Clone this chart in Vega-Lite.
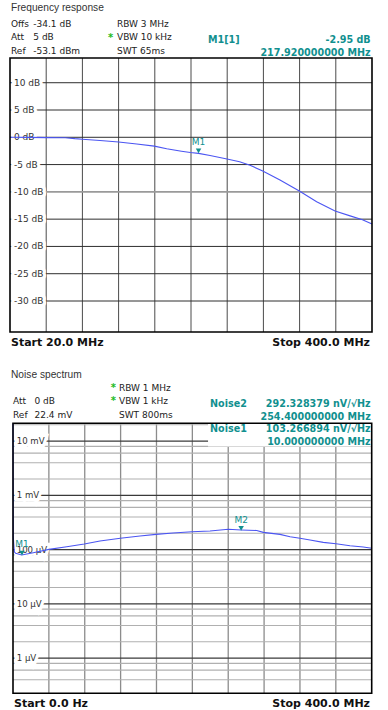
{
"$schema": "https://vega.github.io/schema/vega-lite/v6.json",
"width": 388, "height": 710, "autosize": "none", "padding": 0, "background": "white",
"config": {"view": {"stroke": null}, "text": {"font": "DejaVu Sans"}},
"data": {"values": [{}]},
"datasets": {
 "topV": [{"f":58},{"f":96},{"f":134},{"f":172},{"f":210},{"f":248},{"f":286},{"f":324},{"f":362}],
 "topH": [{"v":10,"label":"10 dB"},{"v":5,"label":"5 dB"},{"v":0,"label":"0 dB"},{"v":-5,"label":"-5 dB"},{"v":-10,"label":"-10 dB"},{"v":-15,"label":"-15 dB"},{"v":-20,"label":"-20 dB"},{"v":-25,"label":"-25 dB"},{"v":-30,"label":"-30 dB"}],
 "topTrace": [{"f":20,"db":0.0},{"f":40,"db":-0.02},{"f":58,"db":-0.06},{"f":78,"db":-0.08},{"f":88,"db":-0.25},{"f":96,"db":-0.35},{"f":114.5,"db":-0.6},{"f":134,"db":-0.85},{"f":153,"db":-1.23},{"f":171.5,"db":-1.62},{"f":184.5,"db":-2.1},{"f":200,"db":-2.55},{"f":209.3,"db":-2.8},{"f":217.9,"db":-2.95},{"f":230,"db":-3.35},{"f":247.8,"db":-3.97},{"f":261,"db":-4.47},{"f":272,"db":-5.13},{"f":285.3,"db":-6.17},{"f":303.4,"db":-7.82},{"f":323.7,"db":-9.84},{"f":341.9,"db":-11.8},{"f":361.2,"db":-13.5},{"f":377,"db":-14.4},{"f":390,"db":-15.1},{"f":400,"db":-15.9}],
 "botV": [{"f":40},{"f":80},{"f":120},{"f":160},{"f":200},{"f":240},{"f":280},{"f":320},{"f":360}],
 "botH": [{"v":20000,"kind":"minor"},{"v":10000,"kind":"major","label":"10 mV"},{"v":8000,"kind":"minor"},{"v":6000,"kind":"minor"},{"v":4000,"kind":"minor"},{"v":2000,"kind":"minor"},{"v":1000,"kind":"major","label":"1 mV"},{"v":800,"kind":"minor"},{"v":600,"kind":"minor"},{"v":400,"kind":"minor"},{"v":200,"kind":"minor"},{"v":100,"kind":"major","label":"100 µV"},{"v":80,"kind":"minor"},{"v":60,"kind":"minor"},{"v":40,"kind":"minor"},{"v":20,"kind":"minor"},{"v":10,"kind":"major","label":"10 µV"},{"v":8,"kind":"minor"},{"v":6,"kind":"minor"},{"v":4,"kind":"minor"},{"v":2,"kind":"minor"},{"v":1,"kind":"major","label":"1 µV"},{"v":0.8,"kind":"minor"},{"v":0.6,"kind":"minor"},{"v":0.4,"kind":"minor"}],
 "botTrace": [{"f":0,"uv":21300},{"f":0.35,"uv":170},{"f":1.45,"uv":91},{"f":3.0,"uv":85.5},{"f":9.7,"uv":79.5},{"f":22.6,"uv":87.7},{"f":40.1,"uv":101},{"f":59.9,"uv":113},{"f":79.5,"uv":127},{"f":97,"uv":144},{"f":119.7,"uv":161.6},{"f":141.6,"uv":178},{"f":159.5,"uv":191},{"f":178.4,"uv":202},{"f":199.6,"uv":214},{"f":219.7,"uv":220},{"f":240.1,"uv":237},{"f":254.4,"uv":230},{"f":271.8,"uv":225},{"f":279.1,"uv":208},{"f":297.7,"uv":191},{"f":309,"uv":173},{"f":320,"uv":162},{"f":331.2,"uv":150},{"f":346,"uv":136},{"f":360.2,"uv":128},{"f":375.8,"uv":118},{"f":390.6,"uv":111.6},{"f":400,"uv":105.7}]
},
"resolve": {"scale": {"x": "independent", "y": "independent"}},
"layer": [
 {
  "layer": [
   {"data": {"name": "topV"}, "mark": {"type": "rule", "color": "#4a4a4a", "strokeWidth": 1},
    "encoding": {"x": {"field": "f", "type": "quantitative", "scale": {"domain": [20,400], "range": [10,372], "nice": false, "zero": false}, "axis": null},
                 "y": {"datum": -35.68, "type": "quantitative", "scale": {"domain": [-35.68,14.53], "range": [332,58], "nice": false, "zero": false}, "axis": null},
                 "y2": {"datum": 14.53}}},
   {"data": {"name": "topH"}, "mark": {"type": "rule"},
    "encoding": {"y": {"field": "v", "type": "quantitative", "axis": null},
                 "x": {"datum": 20, "type": "quantitative", "axis": null}, "x2": {"datum": 400},
                 "stroke": {"condition": {"test": "datum.v === -10", "value": "#9a9a9a"}, "value": "#2e2e2e"},
                 "strokeWidth": {"condition": {"test": "datum.v === -10", "value": 1.8}, "value": 1}}},
   {"data": {"name": "topH"}, "mark": {"type": "text", "align": "left", "baseline": "middle", "fontSize": 9, "fill": "white", "stroke": "white", "strokeWidth": 6.5},
    "encoding": {"x": {"datum": 24.2, "type": "quantitative"}, "y": {"field": "v", "type": "quantitative"}, "text": {"field": "label"}}},
   {"data": {"name": "topH"}, "mark": {"type": "text", "align": "left", "baseline": "middle", "fontSize": 9, "fill": "#333333"},
    "encoding": {"x": {"datum": 24.2, "type": "quantitative"}, "y": {"field": "v", "type": "quantitative"}, "text": {"field": "label"}}},
   {"data": {"name": "topTrace"}, "mark": {"type": "line", "color": "#4b55f2", "strokeWidth": 1.1},
    "encoding": {"x": {"field": "f", "type": "quantitative"}, "y": {"field": "db", "type": "quantitative"}}},
   {"mark": {"type": "rect", "filled": false, "color": "black", "strokeWidth": 1.6},
    "encoding": {"x": {"datum": 20, "type": "quantitative"}, "x2": {"datum": 400}, "y": {"datum": -35.68, "type": "quantitative"}, "y2": {"datum": 14.53}}},
   {"mark": {"type": "point", "shape": "triangle-down", "filled": true, "color": "#11908f", "size": 30, "opacity": 1, "yOffset": -2.5},
    "encoding": {"x": {"datum": 217.92, "type": "quantitative"}, "y": {"datum": -2.95, "type": "quantitative"}}},
   {"mark": {"type": "text", "text": "M1", "fontSize": 9, "color": "#11908f", "dy": -11.5, "align": "center", "baseline": "middle"},
    "encoding": {"x": {"datum": 217.92, "type": "quantitative"}, "y": {"datum": -2.95, "type": "quantitative"}}},
   {"mark": {"type": "text", "text": "Frequency response", "font": "Liberation Sans", "fontSize": 10.2, "color": "#333333", "align": "left", "baseline": "alphabetic"},
    "encoding": {"x": {"datum": 21.05, "type": "quantitative"}, "y": {"datum": 23.23, "type": "quantitative"}}},
   {"mark": {"type": "text", "text": ["Offs", "Att", "Ref"], "fontSize": 9, "lineHeight": 13.8, "color": "#222222", "align": "left", "baseline": "alphabetic"},
    "encoding": {"x": {"datum": 21.05, "type": "quantitative"}, "y": {"datum": 20.27, "type": "quantitative"}}},
   {"mark": {"type": "text", "text": ["-34.1 dB", "5 dB", "-53.1 dBm"], "fontSize": 9, "lineHeight": 13.8, "color": "#222222", "align": "left", "baseline": "alphabetic"},
    "encoding": {"x": {"datum": 44.46, "type": "quantitative"}, "y": {"datum": 20.27, "type": "quantitative"}}},
   {"mark": {"type": "text", "text": ["RBW 3 MHz", "VBW 10 kHz", "SWT 65ms"], "fontSize": 9, "lineHeight": 13.8, "color": "#222222", "align": "left", "baseline": "alphabetic"},
    "encoding": {"x": {"datum": 132.3, "type": "quantitative"}, "y": {"datum": 20.27, "type": "quantitative"}}},
   {"mark": {"type": "text", "text": "*", "fontSize": 10, "fontWeight": "bold", "color": "#22bb22", "align": "left", "baseline": "alphabetic"},
    "encoding": {"x": {"datum": 122.9, "type": "quantitative"}, "y": {"datum": 17.7, "type": "quantitative"}}},
   {"mark": {"type": "text", "text": "M1[1]", "fontSize": 9.6, "fontWeight": "bold", "color": "#11908f", "align": "left", "baseline": "alphabetic"},
    "encoding": {"x": {"datum": 227.8, "type": "quantitative"}, "y": {"datum": 17.28, "type": "quantitative"}}},
   {"mark": {"type": "text", "text": ["-2.95 dB", "217.920000000 MHz"], "fontSize": 9.6, "fontWeight": "bold", "lineHeight": 13, "color": "#11908f", "align": "right", "baseline": "alphabetic"},
    "encoding": {"x": {"datum": 398.6, "type": "quantitative"}, "y": {"datum": 17.28, "type": "quantitative"}}},
   {"mark": {"type": "text", "text": "Start 20.0 MHz", "fontSize": 11, "fontWeight": "bold", "color": "#111111", "align": "left", "baseline": "alphabetic"},
    "encoding": {"x": {"datum": 21.05, "type": "quantitative"}, "y": {"datum": -38.19, "type": "quantitative"}}},
   {"mark": {"type": "text", "text": "Stop 400.0 MHz", "fontSize": 11, "fontWeight": "bold", "color": "#111111", "align": "right", "baseline": "alphabetic"},
    "encoding": {"x": {"datum": 397.9, "type": "quantitative"}, "y": {"datum": -38.19, "type": "quantitative"}}}
  ]
 },
 {
  "layer": [
   {"data": {"name": "botV"}, "mark": {"type": "rule", "color": "#8c8c8c", "strokeWidth": 1.3},
    "encoding": {"x": {"field": "f", "type": "quantitative", "scale": {"domain": [0,400], "range": [13,371.7], "nice": false, "zero": false}, "axis": null},
                 "y": {"datum": 0.2245, "type": "quantitative", "scale": {"type": "log", "domain": [0.2245,21300], "range": [693.3,423.3], "nice": false}, "axis": null},
                 "y2": {"datum": 21300}}},
   {"data": {"name": "botH"}, "mark": {"type": "rule"},
    "encoding": {"y": {"field": "v", "type": "quantitative", "axis": null},
                 "x": {"datum": 0, "type": "quantitative", "axis": null}, "x2": {"datum": 400},
                 "stroke": {"condition": {"test": "datum.kind === 'major'", "value": "#3a3a3a"}, "value": "#b0b0b0"},
                 "strokeWidth": {"value": 1.1}}},
   {"mark": {"type": "rect", "color": "white"},
    "encoding": {"x": {"datum": 217.5, "type": "quantitative"}, "x2": {"datum": 400}, "y": {"datum": 7950, "type": "quantitative"}, "y2": {"datum": 21300}}},
   {"data": {"name": "botH"}, "transform": [{"filter": "datum.kind === 'major'"}], "mark": {"type": "text", "align": "left", "baseline": "middle", "fontSize": 8.6, "fill": "white", "stroke": "white", "strokeWidth": 6.5},
    "encoding": {"x": {"datum": 4.1, "type": "quantitative"}, "y": {"field": "v", "type": "quantitative"}, "text": {"field": "label"}}},
   {"data": {"name": "botH"}, "transform": [{"filter": "datum.kind === 'major'"}], "mark": {"type": "text", "align": "left", "baseline": "middle", "fontSize": 8.6, "fill": "#333333"},
    "encoding": {"x": {"datum": 4.1, "type": "quantitative"}, "y": {"field": "v", "type": "quantitative"}, "text": {"field": "label"}}},
   {"data": {"name": "botTrace"}, "mark": {"type": "line", "color": "#4b55f2", "strokeWidth": 1.1},
    "encoding": {"x": {"field": "f", "type": "quantitative"}, "y": {"field": "uv", "type": "quantitative"}}},
   {"mark": {"type": "rect", "filled": false, "color": "black", "strokeWidth": 1.6},
    "encoding": {"x": {"datum": 0, "type": "quantitative"}, "x2": {"datum": 400}, "y": {"datum": 0.2245, "type": "quantitative"}, "y2": {"datum": 21300}}},
   {"mark": {"type": "point", "shape": "triangle-down", "filled": true, "color": "#11908f", "size": 30, "opacity": 1, "yOffset": -2},
    "encoding": {"x": {"datum": 10, "type": "quantitative"}, "y": {"datum": 79.5, "type": "quantitative"}}},
   {"mark": {"type": "text", "text": "M1", "fontSize": 9, "color": "#11908f", "dy": -11, "align": "center", "baseline": "middle"},
    "encoding": {"x": {"datum": 10, "type": "quantitative"}, "y": {"datum": 79.5, "type": "quantitative"}}},
   {"mark": {"type": "point", "shape": "triangle-down", "filled": true, "color": "#11908f", "size": 30, "opacity": 1, "yOffset": -1.5},
    "encoding": {"x": {"datum": 254.4, "type": "quantitative"}, "y": {"datum": 230, "type": "quantitative"}}},
   {"mark": {"type": "text", "text": "M2", "fontSize": 9, "color": "#11908f", "dy": -9.5, "align": "center", "baseline": "middle"},
    "encoding": {"x": {"datum": 254.4, "type": "quantitative"}, "y": {"datum": 230, "type": "quantitative"}}},
   {"mark": {"type": "text", "text": "Noise spectrum", "font": "Liberation Sans", "fontSize": 10.2, "color": "#333333", "align": "left", "baseline": "alphabetic"},
    "encoding": {"x": {"datum": -2.23, "type": "quantitative"}, "y": {"datum": 145600, "type": "quantitative"}}},
   {"mark": {"type": "text", "text": ["Att", "Ref"], "fontSize": 9, "lineHeight": 14, "color": "#222222", "align": "left", "baseline": "alphabetic"},
    "encoding": {"x": {"datum": 0, "type": "quantitative"}, "y": {"datum": 48300, "type": "quantitative"}}},
   {"mark": {"type": "text", "text": ["0 dB", "22.4 mV"], "fontSize": 9, "lineHeight": 14, "color": "#222222", "align": "left", "baseline": "alphabetic"},
    "encoding": {"x": {"datum": 23.98, "type": "quantitative"}, "y": {"datum": 48300, "type": "quantitative"}}},
   {"mark": {"type": "text", "text": ["*", "*"], "fontSize": 10, "fontWeight": "bold", "lineHeight": 13.5, "color": "#22bb22", "align": "left", "baseline": "alphabetic"},
    "encoding": {"x": {"datum": 108.9, "type": "quantitative"}, "y": {"datum": 84900, "type": "quantitative"}}},
   {"mark": {"type": "text", "text": ["RBW 1 MHz", "VBW 1 kHz", "SWT 800ms"], "fontSize": 9, "lineHeight": 13.7, "color": "#222222", "align": "left", "baseline": "alphabetic"},
    "encoding": {"x": {"datum": 118.2, "type": "quantitative"}, "y": {"datum": 84900, "type": "quantitative"}}},
   {"mark": {"type": "text", "text": "Noise2", "fontSize": 9.6, "fontWeight": "bold", "color": "#11908f", "align": "left", "baseline": "alphabetic"},
    "encoding": {"x": {"datum": 219.7, "type": "quantitative"}, "y": {"datum": 42520, "type": "quantitative"}}},
   {"mark": {"type": "text", "text": ["292.328379 nV/√Hz", "254.400000000 MHz"], "fontSize": 9.6, "fontWeight": "bold", "lineHeight": 13, "color": "#11908f", "align": "right", "baseline": "alphabetic"},
    "encoding": {"x": {"datum": 398.9, "type": "quantitative"}, "y": {"datum": 42520, "type": "quantitative"}}},
   {"mark": {"type": "text", "text": "Noise1", "fontSize": 9.6, "fontWeight": "bold", "color": "#11908f", "align": "left", "baseline": "alphabetic"},
    "encoding": {"x": {"datum": 219.7, "type": "quantitative"}, "y": {"datum": 14720, "type": "quantitative"}}},
   {"mark": {"type": "text", "text": ["103.266894 nV/√Hz", "10.000000000 MHz"], "fontSize": 9.6, "fontWeight": "bold", "lineHeight": 12.5, "color": "#11908f", "align": "right", "baseline": "alphabetic"},
    "encoding": {"x": {"datum": 398.9, "type": "quantitative"}, "y": {"datum": 14720, "type": "quantitative"}}},
   {"mark": {"type": "text", "text": "Start 0.0 Hz", "fontSize": 11, "fontWeight": "bold", "color": "#111111", "align": "left", "baseline": "alphabetic"},
    "encoding": {"x": {"datum": 1.1, "type": "quantitative"}, "y": {"datum": 0.1256, "type": "quantitative"}}},
   {"mark": {"type": "text", "text": "Stop 400.0 MHz", "fontSize": 11, "fontWeight": "bold", "color": "#111111", "align": "right", "baseline": "alphabetic"},
    "encoding": {"x": {"datum": 398.1, "type": "quantitative"}, "y": {"datum": 0.1256, "type": "quantitative"}}}
  ]
 }
]
}
